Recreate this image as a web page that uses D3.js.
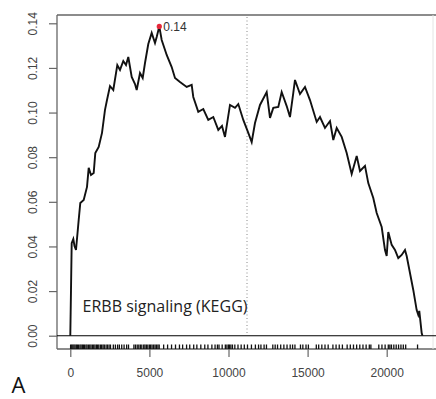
<!DOCTYPE html>
<html>
<head>
<meta charset="utf-8">
<script src="https://cdn.jsdelivr.net/npm/d3@7/dist/d3.min.js"></script>
<style>
  html, body { margin: 0; padding: 0; background: #fff; }
  svg { display: block; }
</style>
</head>
<body>
<svg id="chart" width="436" height="399"></svg>
<script>
// ---- data ----
const rankPos = [0,44,88,190,265,360,531,632,847,1056,1163,1308,1479,1580,1795,2004,2193,2320,2509,2718,2971,3141,3350,3521,3666,3881,4090,4197,4406,4576,4722,4930,5145,5354,5461,5625,5777,6093,6409,6618,6934,7357,7673,7774,8090,8407,8722,9039,9355,9589,9778,10094,10411,10619,10935,11251,11466,11675,11991,12414,12623,12831,13147,13362,13678,13887,14096,14203,14519,14835,15151,15575,15783,16099,16416,16624,16839,17155,17471,17787,18103,18312,18628,18836,19152,19367,19683,19892,19999,20100,20315,20524,20732,20947,21156,21263,21680,21895,21996,22060,22211,22262];
const runningScore = [0,0.0205,0.0415,0.0433,0.0402,0.0384,0.0519,0.0595,0.0608,0.0667,0.0752,0.0720,0.0729,0.0819,0.0846,0.0909,0.1012,0.1056,0.1119,0.1101,0.1213,0.1191,0.1231,0.1213,0.1249,0.1160,0.1128,0.1101,0.1177,0.1155,0.1222,0.1307,0.1357,0.1312,0.1339,0.1386,0.1325,0.1258,0.1204,0.1155,0.1137,0.1115,0.1124,0.1070,0.1003,0.1016,0.0967,0.0980,0.0922,0.0940,0.0891,0.1034,0.1021,0.1038,0.0967,0.0909,0.0868,0.0953,0.1034,0.1092,0.0976,0.1021,0.1025,0.1092,0.1029,0.0980,0.1088,0.1146,0.1083,0.1115,0.1056,0.0958,0.0980,0.0931,0.0962,0.0877,0.0931,0.0891,0.0819,0.0725,0.0805,0.0738,0.0761,0.0684,0.0617,0.0550,0.0487,0.0384,0.0357,0.0465,0.0407,0.0384,0.0348,0.0362,0.0384,0.0357,0.0205,0.0115,0.0093,0.0111,0.0012,0];
const hitPositions = [20,90,160,230,300,380,450,520,610,680,760,830,900,990,1060,1150,1230,1310,1400,1480,1560,1650,1720,1800,1900,1980,2070,2150,2260,2350,2450,2540,2720,2850,2990,3100,3250,3400,3560,3680,4020,4120,4230,4330,4430,4520,4640,4720,4810,4900,5000,5080,5170,5270,5360,5450,5540,5620,5900,6150,6400,6650,6900,7100,7350,7550,7800,8000,8250,8500,8700,8950,9150,9300,9400,9600,9800,9900,10000,10060,10150,10250,10400,10600,10800,11000,11200,11450,11700,11900,12050,12250,12400,12800,12950,13100,13300,13500,13700,13900,14050,14200,14550,14700,14900,15050,15550,15700,15900,16100,16300,16600,16800,17000,17200,17500,17700,17900,18100,18300,18500,18700,18900,19000,19500,19700,19900,20100,20200,20300,20450,20600,20750,20900,21050,21200,21950];
const xTicks = [0, 5000, 10000, 15000, 20000];
const yTicks = [0.00, 0.02, 0.04, 0.06, 0.08, 0.10, 0.12, 0.14];
const peakRank = 5625;
const peakScore = 0.1386;
const peakLabel = "0.14";
const midRank = 11170;
const titleText = "ERBB signaling (KEGG)";
const panelLabel = "A";

// ---- layout ----
const svg = d3.select("#chart");
const box = { left: 57, right: 433, top: 15, bottom: 349 };

const x = d3.scaleLinear().domain([0, 20000]).range([70.3, 386.7]);
const y = d3.scaleLinear().domain([0, 0.14]).range([335.7, 23.3]);

// frame
svg.append("line").attr("x1", box.left).attr("x2", 436).attr("y1", box.top).attr("y2", box.top)
  .attr("stroke", "#666").attr("stroke-width", 1.6);
svg.append("line").attr("x1", box.left).attr("x2", box.left).attr("y1", box.top).attr("y2", box.bottom)
  .attr("stroke", "#666").attr("stroke-width", 1.3);
svg.append("line").attr("x1", box.left).attr("x2", 436).attr("y1", box.bottom).attr("y2", box.bottom)
  .attr("stroke", "#666").attr("stroke-width", 1.3);
svg.append("line").attr("x1", box.right).attr("x2", box.right).attr("y1", box.top).attr("y2", box.bottom)
  .attr("stroke", "#e4e4e4").attr("stroke-width", 1);

// y axis
const yAxis = d3.axisLeft(y).tickValues(yTicks).tickSize(8).tickPadding(4).tickFormat(d3.format(".2f"));
const gy = svg.append("g").attr("transform", `translate(${box.left},0)`).call(yAxis);
gy.select(".domain").remove();
gy.selectAll(".tick line").attr("stroke", "#666").attr("stroke-width", 1.2);
gy.selectAll(".tick text")
  .attr("font-family", "Liberation Sans, Arial, sans-serif").attr("font-size", 12).attr("fill", "#444")
  .attr("text-anchor", "middle").attr("x", null).attr("dy", null)
  .attr("transform", "translate(-24,0) rotate(-90)")
  .attr("y", 4);

// x axis
const xAxis = d3.axisBottom(x).tickValues(xTicks).tickSize(8).tickPadding(11).tickFormat(d3.format("d"));
const gx = svg.append("g").attr("transform", `translate(0,${box.bottom})`).call(xAxis);
gx.select(".domain").remove();
gx.selectAll(".tick line").attr("stroke", "#666").attr("stroke-width", 1.2);
gx.selectAll(".tick text")
  .attr("font-family", "Liberation Sans, Arial, sans-serif").attr("font-size", 12).attr("fill", "#444");

// zero line
svg.append("line").attr("x1", box.left).attr("x2", 436).attr("y1", y(0)).attr("y2", y(0))
  .attr("stroke", "#000").attr("stroke-width", 1.1);

// mid dotted line
svg.append("line").attr("x1", x(midRank)).attr("x2", x(midRank)).attr("y1", box.top + 2).attr("y2", box.bottom - 14)
  .attr("stroke", "#888").attr("stroke-width", 1).attr("stroke-dasharray", "1,2.5");

// rug
svg.append("g").selectAll("line").data(hitPositions).join("line")
  .attr("x1", d => x(d)).attr("x2", d => x(d))
  .attr("y1", 344.5).attr("y2", box.bottom)
  .attr("stroke", "#111").attr("stroke-width", 1.3);

// running score line
const pts = rankPos.map((r, i) => [r, runningScore[i]]);
svg.append("path").datum(pts)
  .attr("fill", "none").attr("stroke", "#111").attr("stroke-width", 1.9).attr("stroke-linejoin", "miter")
  .attr("d", d3.line().x(d => x(d[0])).y(d => y(d[1])));

// peak
svg.append("circle").attr("cx", x(peakRank)).attr("cy", y(peakScore)).attr("r", 2.6).attr("fill", "#e5283a");
svg.append("text").attr("x", x(peakRank) + 4).attr("y", y(peakScore) + 5)
  .attr("font-family", "Liberation Sans, Arial, sans-serif").attr("font-size", 12).attr("fill", "#333")
  .text(peakLabel);

// title
svg.append("text").attr("x", 82.5).attr("y", 311.5)
  .attr("font-family", "Open Sans, sans-serif").attr("font-size", 15.5).attr("fill", "#222")
  .attr("textLength", 165).attr("lengthAdjust", "spacingAndGlyphs")
  .text(titleText);

// panel label
svg.append("text").attr("x", 11.5).attr("y", 392.5)
  .attr("font-family", "Open Sans, sans-serif").attr("font-size", 22).attr("fill", "#111")
  .text(panelLabel);
</script>
</body>
</html>
